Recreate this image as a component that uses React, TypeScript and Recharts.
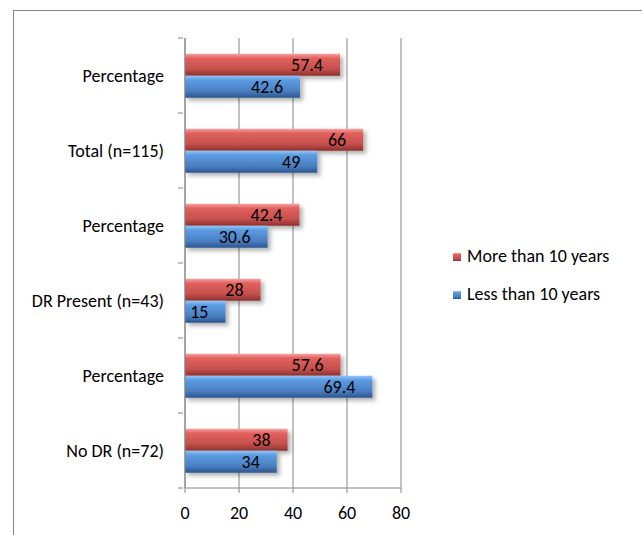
import { BarChart, Bar, XAxis, YAxis, CartesianGrid, Legend, LabelList } from "recharts";

const categories = ["Percentage", "Total (n=115)", "Percentage", "DR Present (n=43)", "Percentage", "No DR (n=72)"];
const moreThan10 = [57.4, 66, 42.4, 28, 57.6, 38];
const lessThan10 = [42.6, 49, 30.6, 15, 69.4, 34];
const xTicks = [0, 20, 40, 60, 80];

const data = categories.map((c, i) => ({ name: c, more: moreThan10[i], less: lessThan10[i] }));

const FONT = "Carlito, Lato, sans-serif";
const FS = 18;
const AXIS = "#868686";

function YTick(props: any) {
  const { x, y, payload, index } = props;
  const half = 37.5;
  return (
    <g>
      <text x={x - 13} y={y} dy={6} textAnchor="end" fontSize={FS} fontFamily={FONT} fill="#000">
        {payload.value}
      </text>
      <line x1={x + 1} x2={x + 6} y1={y - half} y2={y - half} stroke={AXIS} />
      {index === categories.length - 1 && <line x1={x + 1} x2={x + 6} y1={y + half} y2={y + half} stroke={AXIS} />}
    </g>
  );
}

function LegendBox() {
  const items = [
    { label: "More than 10 years", id: "gRed" },
    { label: "Less than 10 years", id: "gBlue" },
  ];
  return (
    <div style={{ fontFamily: FONT, fontSize: FS }}>
      {items.map((it) => (
        <div key={it.label} style={{ display: "flex", alignItems: "center", height: 38 }}>
          <svg width={11} height={9} style={{ marginRight: 3 }}>
            <rect width={8} height={8} y={1} fill={`url(#${it.id})`} />
          </svg>
          <span>{it.label}</span>
        </div>
      ))}
    </div>
  );
}

export default function App() {
  return (
    <div style={{ position: "absolute", left: 0, top: 0, width: 642, height: 535, background: "#fff", overflow: "hidden" }}>
      <div style={{ position: "absolute", left: 13, top: 10, width: 640, height: 540, border: "1px solid #868686" }} />
      <BarChart
        width={642}
        height={535}
        layout="vertical"
        data={data}
        margin={{ top: 38, right: 241, bottom: 17, left: 0 }}
        barCategoryGap="21%"
        barGap={0}
      >
        <defs>
          <linearGradient id="gRed" x1="0" y1="0" x2="0" y2="1">
            <stop offset="0%" stopColor="#f7a3a1" />
            <stop offset="20%" stopColor="#e2615e" />
            <stop offset="70%" stopColor="#c4504d" />
            <stop offset="100%" stopColor="#8e302d" />
          </linearGradient>
          <linearGradient id="gBlue" x1="0" y1="0" x2="0" y2="1">
            <stop offset="0%" stopColor="#92c6f8" />
            <stop offset="20%" stopColor="#5c9be2" />
            <stop offset="70%" stopColor="#4a7fc1" />
            <stop offset="100%" stopColor="#2a568e" />
          </linearGradient>
          <filter id="shadow" x="-10%" y="-20%" width="130%" height="160%">
            <feDropShadow dx={3} dy={3} stdDeviation={2} floodColor="#000" floodOpacity={0.3} />
          </filter>
        </defs>
        <CartesianGrid horizontal={false} stroke={AXIS} />
        <XAxis
          type="number"
          domain={[0, 80]}
          ticks={xTicks}
          height={30}
          stroke={AXIS}
          tickSize={5}
          tick={{ fill: "#000", fontSize: FS, fontFamily: FONT }}
          tickMargin={13}
        />
        <YAxis
          type="category"
          dataKey="name"
          width={185}
          stroke={AXIS}
          tickLine={false}
          tick={<YTick />}
        />
        <Legend
          layout="vertical"
          align="center"
          verticalAlign="middle"
          content={<LegendBox />}
          wrapperStyle={{ left: 453, top: 237, width: 185 }}
        />
        <Bar dataKey="more" name="More than 10 years" fill="url(#gRed)" filter="url(#shadow)" isAnimationActive={false}>
          <LabelList dataKey="more" position="insideRight" offset={17} fill="#000" fontSize={FS} fontFamily={FONT} />
        </Bar>
        <Bar dataKey="less" name="Less than 10 years" fill="url(#gBlue)" filter="url(#shadow)" isAnimationActive={false}>
          <LabelList dataKey="less" position="insideRight" offset={17} fill="#000" fontSize={FS} fontFamily={FONT} />
        </Bar>
      </BarChart>
    </div>
  );
}
